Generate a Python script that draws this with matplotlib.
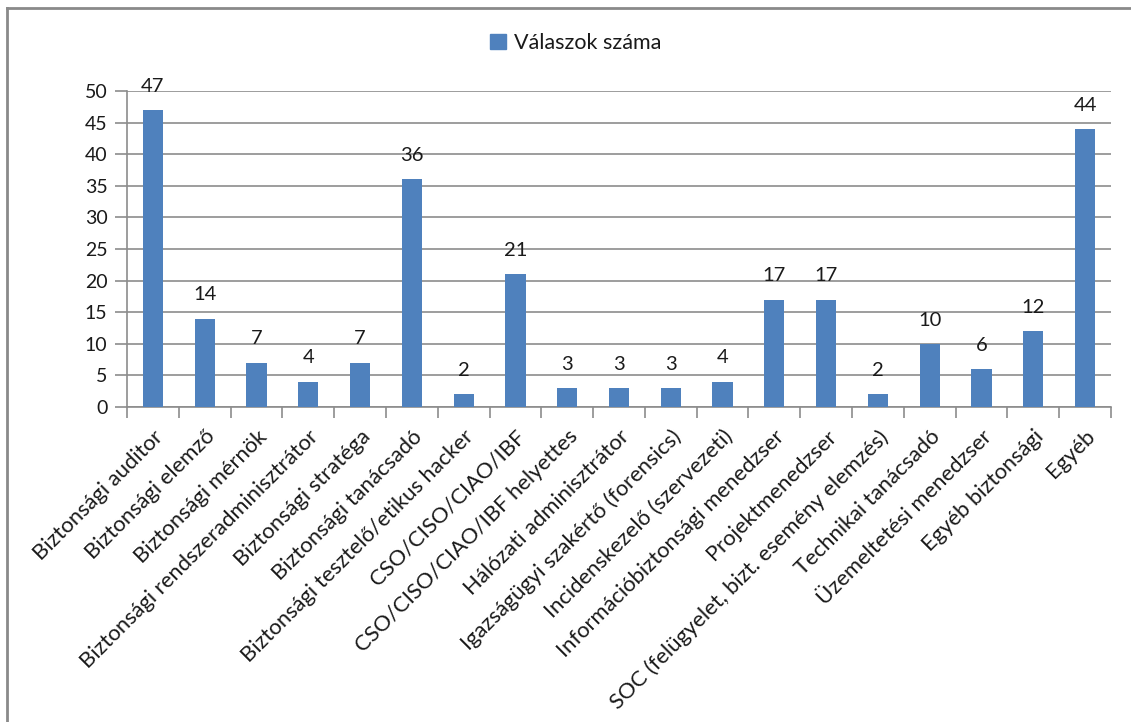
import matplotlib.pyplot as plt
from matplotlib.lines import Line2D
from matplotlib.patches import Patch

categories = [
    "Biztonsági auditor",
    "Biztonsági elemző",
    "Biztonsági mérnök",
    "Biztonsági rendszeradminisztrátor",
    "Biztonsági stratéga",
    "Biztonsági tanácsadó",
    "Biztonsági tesztelő/etikus hacker",
    "CSO/CISO/CIAO/IBF",
    "CSO/CISO/CIAO/IBF helyettes",
    "Hálózati adminisztrátor",
    "Igazságügyi szakértő (forensics)",
    "Incidenskezelő (szervezeti)",
    "Információbiztonsági menedzser",
    "Projektmenedzser",
    "SOC (felügyelet, bizt. esemény elemzés)",
    "Technikai tanácsadó",
    "Üzemeltetési menedzser",
    "Egyéb biztonsági",
    "Egyéb",
]
values = [47, 14, 7, 4, 7, 36, 2, 21, 3, 3, 3, 4, 17, 17, 2, 10, 6, 12, 44]
series_name = "Válaszok száma"
y_ticks = [0, 5, 10, 15, 20, 25, 30, 35, 40, 45, 50]

BAR = "#4F81BD"
GRID = "#8C8C8C"
TEXT = "#1a1a1a"
FONT = "Lato"

plt.rcParams["font.family"] = [FONT, "DejaVu Sans"]

W, H = 1131, 722
fig = plt.figure(figsize=(W / 100, H / 100), dpi=100)
ax = fig.add_axes([127 / W, 1 - 407 / H, (1111 - 127) / W, (407 - 91) / H])

n = len(categories)
xs = list(range(n))
ax.bar(xs, values, width=0.39, color=BAR, zorder=3)
ax.set_xlim(-0.5, n - 0.5)
ax.set_ylim(0, 50)

# horizontal gridlines, with outward ticks acting as their left extension
ax.set_yticks(y_ticks)
ax.yaxis.grid(True, color=GRID, linewidth=1.2, zorder=0)
ax.tick_params(axis="y", length=9, width=1.2, color=GRID, pad=5,
               labelsize=14, labelcolor=TEXT)

# category labels at bar centres, tick marks at category boundaries
ax.set_xticks(xs)
ax.set_xticklabels(categories, rotation=45, ha="right", va="top",
                   rotation_mode="anchor", fontsize=15.8, color=TEXT)
ax.tick_params(axis="x", which="major", length=0, pad=14)
ax.set_xticks([i - 0.5 for i in range(n + 1)], minor=True)
ax.tick_params(axis="x", which="minor", length=8, width=1.2, color=GRID)

for side in ("top", "right"):
    ax.spines[side].set_visible(False)
for side in ("left", "bottom"):
    ax.spines[side].set_color(GRID)
    ax.spines[side].set_linewidth(1.2)

# value labels above bars
for x, v in zip(xs, values):
    ax.annotate(str(v), (x, v), xytext=(0, 11), textcoords="offset points",
                ha="center", va="bottom", fontsize=14.5, color=TEXT,
                annotation_clip=False)

# legend centred above the plot
handle = Patch(facecolor=BAR, edgecolor=BAR)
fig.legend([handle], [series_name], loc="center", bbox_to_anchor=(576 / W, 1 - 43 / H),
           frameon=False, fontsize=15.5, handlelength=0.7, handleheight=0.7,
           handletextpad=0.4, labelcolor=TEXT)

# outer chart frame (top and left edges)
fig.add_artist(Line2D([7 / W, 1.0], [1 - 8 / H, 1 - 8 / H], transform=fig.transFigure,
                      color="#8a8a8a", linewidth=2))
fig.add_artist(Line2D([7 / W, 7 / W], [0, 1 - 8 / H], transform=fig.transFigure,
                      color="#8a8a8a", linewidth=2))

fig.savefig("out.png", dpi=100, facecolor="white")
